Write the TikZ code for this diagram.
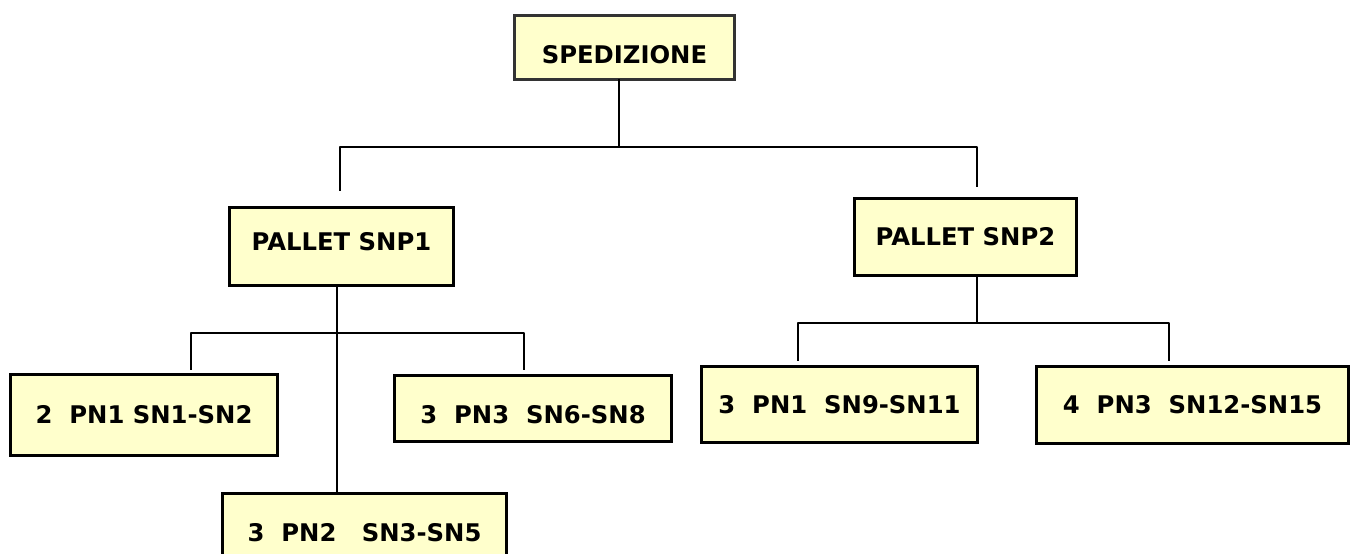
\documentclass[tikz,border=0pt]{standalone}
\usepackage{fontspec}
\setmainfont{DejaVu Sans}
\begin{document}
\begin{tikzpicture}[x=1pt,y=1pt,
  boxnode/.style={draw=drawColor,line width=3.6pt,fill=fillColor,inner sep=0pt,outer sep=0pt,
    font=\fontsize{24.3}{29}\selectfont\bfseries},
  rootnode/.style={boxnode,draw=rootColor,line width=2.6pt},
  lowtext/.style={text height=#1},
  hightext/.style={text depth=#1},
  link/.style={draw=drawColor,line width=1.3pt,line join=round}]
\definecolor{fillColor}{RGB}{255,255,255}
\path[use as bounding box,fill=fillColor] (0,0) rectangle (1352.00,554.00);
\begin{scope}
\path[clip] (  0.00,  0.00) rectangle (1352.00,554.00);
\definecolor{drawColor}{RGB}{0,0,0}
\definecolor{rootColor}{RGB}{51,51,51}
\definecolor{fillColor}{RGB}{255,255,204}

\node[rootnode,lowtext=31.7pt,minimum width=220.00,minimum height= 64.00] (root) at ( 624.50,506.50) {SPEDIZIONE};

\node[boxnode,hightext=10pt,minimum width=224.00,minimum height= 78.00] (snp1) at ( 341.50,307.50) {PALLET SNP1};

\node[boxnode,minimum width=222.00,minimum height= 77.00] (snp2) at ( 965.50,317.00) {PALLET SNP2};

\node[boxnode,minimum width=267.00,minimum height= 81.00] (pn1a) at ( 144.00,139.00) {2~~PN1 SN1-SN2};

\node[boxnode,lowtext=29.7pt,minimum width=277.00,minimum height= 66.00] (pn3a) at ( 533.00,145.50) {3~~PN3~~SN6-SN8};

\node[boxnode,minimum width=284.00,minimum height= 79.00] (pn2a) at ( 364.50, 21.00) {3~~PN2~~~SN3-SN5};

\node[boxnode,minimum width=276.00,minimum height= 76.00] (pn1b) at ( 839.50,149.50) {3~~PN1~~SN9-SN11};

\node[boxnode,minimum width=312.00,minimum height= 77.00] (pn3b) at (1192.50,149.00) {4~~PN3~~SN12-SN15};

\coordinate (j0) at ( 619.00,407.00);
\coordinate (t1) at ( 340.00,363.00);
\coordinate (t2) at ( 977.00,367.00);

\path[link] (root.south -| j0) -- (j0);

\path[link] (t1) -- (t1 |- j0) -- (t2 |- j0) -- (t2);

\coordinate (j1) at ( 337.00,221.00);
\coordinate (ta) at ( 191.00,184.00);
\coordinate (tb) at ( 524.00,184.00);

\path[link] (snp1.south -| j1) -- (pn2a.north -| j1);

\path[link] (ta) -- (ta |- j1) -- (tb |- j1) -- (tb);

\coordinate (j2) at ( 977.00,231.00);
\coordinate (td) at ( 798.00,193.00);
\coordinate (te) at (1169.00,193.00);

\path[link] (snp2.south -| j2) -- (j2);

\path[link] (td) -- (td |- j2) -- (te |- j2) -- (te);
\end{scope}
\end{tikzpicture}
\end{document}
